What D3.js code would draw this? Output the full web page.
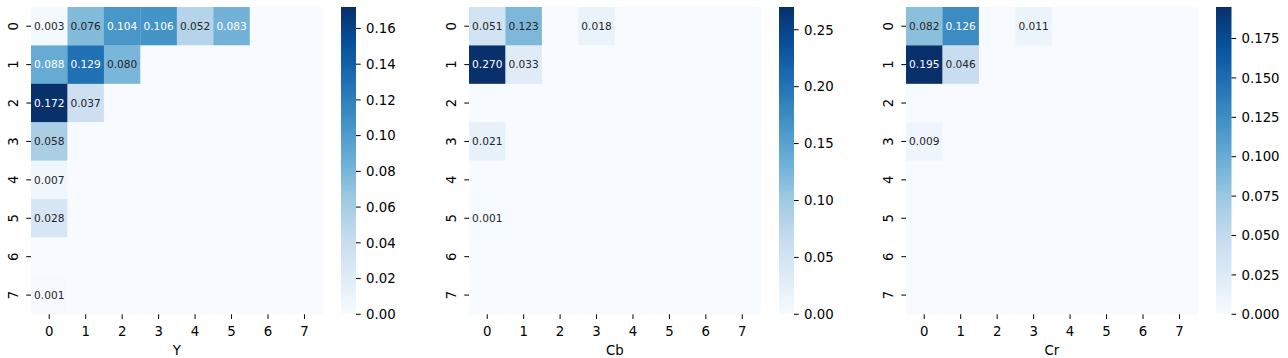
<!DOCTYPE html>
<html>
<head>
<meta charset="utf-8">
<script src="https://cdn.jsdelivr.net/npm/d3@7"></script>
<style>
  html, body { margin: 0; padding: 0; background: #fff; }
  svg { display: block; font-family: "DejaVu Sans", sans-serif; }
</style>
</head>
<body>
<svg id="chart" width="1288" height="358"></svg>
<script>
// ---------- data ----------
const rowLabels = ["0","1","2","3","4","5","6","7"];
const colLabels = ["0","1","2","3","4","5","6","7"];

const yValues = [
  [0.003, 0.076, 0.104, 0.106, 0.052, 0.083, 0, 0],
  [0.088, 0.129, 0.080, 0, 0, 0, 0, 0],
  [0.172, 0.037, 0, 0, 0, 0, 0, 0],
  [0.058, 0, 0, 0, 0, 0, 0, 0],
  [0.007, 0, 0, 0, 0, 0, 0, 0],
  [0.028, 0, 0, 0, 0, 0, 0, 0],
  [0, 0, 0, 0, 0, 0, 0, 0],
  [0.001, 0, 0, 0, 0, 0, 0, 0]
];
const cbValues = [
  [0.051, 0.123, 0, 0.018, 0, 0, 0, 0],
  [0.270, 0.033, 0, 0, 0, 0, 0, 0],
  [0, 0, 0, 0, 0, 0, 0, 0],
  [0.021, 0, 0, 0, 0, 0, 0, 0],
  [0, 0, 0, 0, 0, 0, 0, 0],
  [0.001, 0, 0, 0, 0, 0, 0, 0],
  [0, 0, 0, 0, 0, 0, 0, 0],
  [0, 0, 0, 0, 0, 0, 0, 0]
];
const crValues = [
  [0.082, 0.126, 0, 0.011, 0, 0, 0, 0],
  [0.195, 0.046, 0, 0, 0, 0, 0, 0],
  [0, 0, 0, 0, 0, 0, 0, 0],
  [0.009, 0, 0, 0, 0, 0, 0, 0],
  [0, 0, 0, 0, 0, 0, 0, 0],
  [0, 0, 0, 0, 0, 0, 0, 0],
  [0, 0, 0, 0, 0, 0, 0, 0],
  [0, 0, 0, 0, 0, 0, 0, 0]
];
const panelTitles = ["Y", "Cb", "Cr"];
const yTicks = [0.00, 0.02, 0.04, 0.06, 0.08, 0.10, 0.12, 0.14, 0.16];
const cbTicks = [0.00, 0.05, 0.10, 0.15, 0.20, 0.25];
const crTicks = [0.000, 0.025, 0.050, 0.075, 0.100, 0.125, 0.150, 0.175];
const tickFormats = [".2f", ".2f", ".3f"];

// ---------- colormap (matplotlib Blues, linear segments) ----------
const bluesStops = ["#f7fbff","#deebf7","#c6dbef","#9ecae1","#6baed6","#4292c6","#2171b5","#08519c","#08306b"];
const blues = d3.scaleLinear()
  .domain(d3.range(9).map(i => i / 8))
  .range(bluesStops)
  .interpolate(d3.interpolateRgb)
  .clamp(true);

function luminance(c) {
  const rgb = d3.rgb(c);
  const lin = v => { v /= 255; return v <= 0.03928 ? v / 12.92 : Math.pow((v + 0.055) / 1.055, 2.4); };
  return 0.2126 * lin(rgb.r) + 0.7152 * lin(rgb.g) + 0.0722 * lin(rgb.b);
}

// ---------- layout ----------
const layouts = [
  { hx0: 31,  hx1: 322.7,  cx0: 341,  cx1: 356 },
  { hx0: 469, hx1: 760.5,  cx0: 779,  cx1: 794 },
  { hx0: 906, hx1: 1197.7, cx0: 1216, cx1: 1231.5 }
];
const plotTop = 7, plotBottom = 314.3;
const textDark = "#262626";
const axisInk = "#000000";

const svg = d3.select("#chart");
const defs = svg.append("defs");

const datasets = [yValues, cbValues, crValues];
const tickSets = [yTicks, cbTicks, crTicks];

datasets.forEach((data, p) => {
  const L = layouts[p];
  const vmax = d3.max(data.flat());
  const norm = d3.scaleLinear().domain([0, vmax]).range([0, 1]);
  const color = v => blues(norm(v));

  const x = d3.scaleBand().domain(colLabels).range([L.hx0, L.hx1]).padding(0);
  const y = d3.scaleBand().domain(rowLabels).range([plotTop, plotBottom]).padding(0);

  const g = svg.append("g");

  const cells = [];
  data.forEach((row, r) => row.forEach((v, c) => cells.push({ r, c, v })));

  g.selectAll("rect.cell").data(cells).enter().append("rect")
    .attr("class", "cell")
    .attr("x", d => x(colLabels[d.c]))
    .attr("y", d => y(rowLabels[d.r]))
    .attr("width", x.bandwidth() + 0.3)
    .attr("height", y.bandwidth() + 0.3)
    .attr("fill", d => color(d.v));

  g.selectAll("text.annot").data(cells.filter(d => d.v > 0)).enter().append("text")
    .attr("class", "annot")
    .attr("x", d => x(colLabels[d.c]) + x.bandwidth() / 2)
    .attr("y", d => y(rowLabels[d.r]) + y.bandwidth() / 2)
    .attr("dy", "0.36em")
    .attr("text-anchor", "middle")
    .attr("font-size", "10.6px")
    .attr("fill", d => luminance(color(d.v)) > 0.408 ? textDark : "#ffffff")
    .text(d => d3.format(".3f")(d.v));

  // x axis
  const xAxis = g.append("g");
  colLabels.forEach(l => {
    const cx = x(l) + x.bandwidth() / 2;
    xAxis.append("line").attr("x1", cx).attr("x2", cx).attr("y1", plotBottom).attr("y2", plotBottom + 4.7)
      .attr("stroke", axisInk).attr("stroke-width", 1);
    xAxis.append("text").attr("x", cx).attr("y", 336).attr("text-anchor", "middle")
      .attr("font-size", "13.3px").attr("fill", axisInk).text(l);
  });
  g.append("text").attr("x", (L.hx0 + L.hx1) / 2).attr("y", 355).attr("text-anchor", "middle")
    .attr("font-size", "13.3px").attr("fill", axisInk).text(panelTitles[p]);

  // y axis
  const yAxis = g.append("g");
  rowLabels.forEach(l => {
    const cy = y(l) + y.bandwidth() / 2;
    yAxis.append("line").attr("x1", L.hx0 - 4.7).attr("x2", L.hx0).attr("y1", cy).attr("y2", cy)
      .attr("stroke", axisInk).attr("stroke-width", 1);
    yAxis.append("text")
      .attr("transform", `translate(${L.hx0 - 18},${cy}) rotate(-90)`)
      .attr("text-anchor", "middle").attr("dy", "0.36em")
      .attr("font-size", "13.3px").attr("fill", axisInk).text(l);
  });

  // colorbar
  const gradId = "grad" + p;
  const grad = defs.append("linearGradient").attr("id", gradId)
    .attr("x1", 0).attr("y1", 1).attr("x2", 0).attr("y2", 0);
  d3.range(0, 1.0001, 1 / 64).forEach(t => {
    grad.append("stop").attr("offset", t).attr("stop-color", blues(t));
  });
  g.append("rect").attr("x", L.cx0).attr("y", plotTop).attr("width", L.cx1 - L.cx0).attr("height", plotBottom - plotTop)
    .attr("fill", `url(#${gradId})`);

  const cs = d3.scaleLinear().domain([0, vmax]).range([plotBottom, plotTop]);
  const fmt = d3.format(tickFormats[p]);
  tickSets[p].forEach(t => {
    const ty = cs(t);
    g.append("line").attr("x1", L.cx1).attr("x2", L.cx1 + 4.7).attr("y1", ty).attr("y2", ty)
      .attr("stroke", axisInk).attr("stroke-width", 1);
    g.append("text").attr("x", L.cx1 + 10).attr("y", ty).attr("dy", "0.36em")
      .attr("font-size", "13.3px").attr("fill", axisInk).text(fmt(t));
  });
});
</script>
</body>
</html>
